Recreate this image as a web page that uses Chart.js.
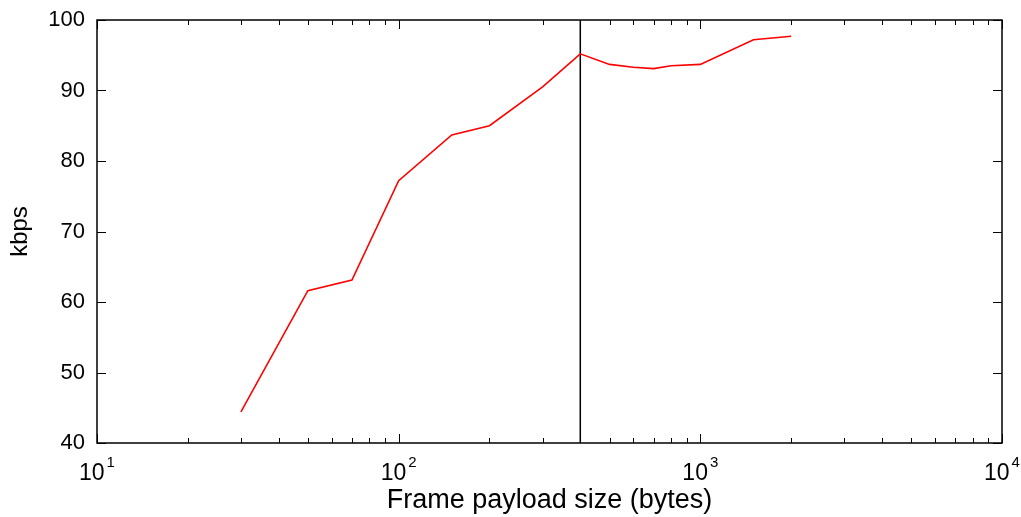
<!DOCTYPE html>
<html>
<head>
<meta charset="utf-8">
<script src="https://cdn.jsdelivr.net/npm/chart.js@4"></script>
<style>
  html, body { margin: 0; padding: 0; background: #fff; }
  #wrap { width: 1021px; height: 517px; }
</style>
</head>
<body>
<div id="wrap"><canvas id="rateChart" width="1021" height="517"></canvas></div>
<script>
// payload sizes (bytes) and measured throughput (kbps)
const payloadSizes = [30, 50, 70, 100, 150, 200, 300, 400, 500, 600, 700, 800, 1000, 1500, 2000];
const throughput = [44.4, 61.6, 63.1, 77.2, 83.7, 85.0, 90.5, 95.2, 93.7, 93.3, 93.1, 93.5, 93.7, 97.2, 97.7];

// vertical marker at 400 bytes
const markerX = 400;

const yTicks = [40, 50, 60, 70, 80, 90, 100];
const xDecades = [10, 100, 1000, 10000];

// box, inward tick marks and 10^n labels like the original plot
const frameTicks = {
    id: "frameTicks",
    afterDatasetsDraw(chart) {
        const { ctx, chartArea: a, scales } = chart;
        const x = scales.x, y = scales.y;
        ctx.save();
        ctx.strokeStyle = "#000";
        ctx.lineWidth = 1;
        ctx.beginPath();
        yTicks.forEach(v => {
            const py = Math.round(y.getPixelForValue(v)) + 0.5;
            ctx.moveTo(a.left, py); ctx.lineTo(a.left + 9, py);
            ctx.moveTo(a.right, py); ctx.lineTo(a.right - 9, py);
        });
        for (let d = 10; d < 10000; d *= 10) {
            for (let m = 1; m <= 10; m++) {
                const v = d * m;
                const px = Math.round(x.getPixelForValue(v)) + 0.5;
                const len = (m === 1 || m === 10) ? 9 : 5;
                ctx.moveTo(px, a.bottom); ctx.lineTo(px, a.bottom - len);
                ctx.moveTo(px, a.top); ctx.lineTo(px, a.top + len);
            }
        }
        ctx.stroke();
        ctx.lineWidth = 1.5;
        ctx.strokeRect(a.left, a.top, a.right - a.left, a.bottom - a.top);

        // decade labels with raised exponent
        ctx.fillStyle = "#000";
        ctx.textBaseline = "alphabetic";
        ctx.textAlign = "left";
        const baseFont = "23px 'Liberation Sans'";
        const expFont = "15px 'Liberation Sans'";
        xDecades.forEach(v => {
            const exp = String(Math.round(Math.log10(v)));
            ctx.font = baseFont;
            const wb = ctx.measureText("10").width;
            ctx.font = expFont;
            const we = ctx.measureText(exp).width;
            const total = wb + 2 + we;
            const px = x.getPixelForValue(v) - total / 2;
            ctx.font = baseFont;
            ctx.fillText("10", px, a.bottom + 37);
            ctx.font = expFont;
            ctx.fillText(exp, px + wb + 2, a.bottom + 24);
        });
        ctx.restore();
    }
};

const config = {
    type: "line",
    data: {
        datasets: [
            {
                label: "throughput",
                data: payloadSizes.map((s, i) => ({ x: s, y: throughput[i] })),
                borderColor: "#ff0000",
                borderWidth: 1.6,
                pointRadius: 0,
                tension: 0,
            },
            {
                label: "marker",
                data: [{ x: markerX, y: 40 }, { x: markerX, y: 100 }],
                borderColor: "#000000",
                borderWidth: 1.5,
                pointRadius: 0,
            },
        ],
    },
    options: {
        responsive: false,
        animation: false,
        layout: { padding: { top: 20, right: 19, left: 0, bottom: 0 } },
        plugins: {
            legend: { display: false },
            tooltip: { enabled: false },
        },
        scales: {
            x: {
                type: "logarithmic",
                min: 10,
                max: 10000,
                afterFit(scale) {
                    scale.height = 74;
                    scale.paddingLeft = 0;
                    scale.paddingRight = 0;
                },
                grid: { display: false, drawTicks: false },
                border: { display: false },
                ticks: { display: false },
                title: {
                    display: true,
                    text: "Frame payload size (bytes)",
                    color: "#000",
                    font: { family: "Liberation Sans", size: 27 },
                    padding: { top: 0, bottom: 0 },
                },
            },
            y: {
                min: 40,
                max: 100,
                afterFit(scale) {
                    scale.width = 97;
                    scale.paddingTop = 0;
                    scale.paddingBottom = 0;
                },
                afterBuildTicks(scale) {
                    scale.ticks = yTicks.map(v => ({ value: v }));
                },
                grid: { display: false, drawTicks: false },
                border: { display: false },
                ticks: {
                    padding: 12,
                    color: "#000",
                    font: { family: "Liberation Sans", size: 22 },
                },
                title: {
                    display: true,
                    text: "kbps",
                    color: "#000",
                    font: { family: "Liberation Sans", size: 24 },
                    padding: { top: 6, bottom: 0 },
                },
            },
        },
    },
    plugins: [frameTicks],
};

const rateChart = new Chart(document.getElementById("rateChart").getContext("2d"), config);
</script>
</body>
</html>
